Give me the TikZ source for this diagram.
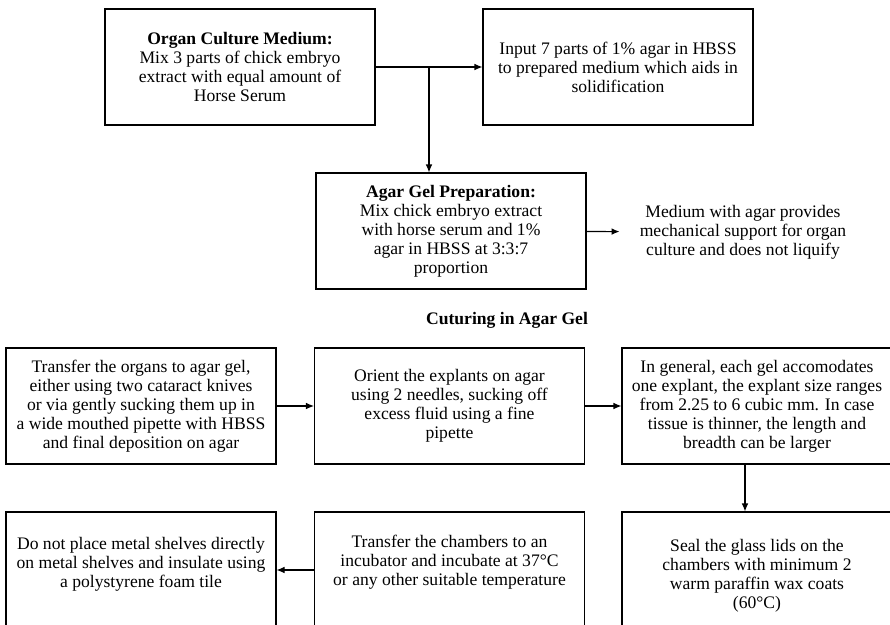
\documentclass[tikz,border=0pt]{standalone}
\usepackage{fontspec}
\setmainfont{Liberation Serif}
\usetikzlibrary{arrows.meta}
\tikzset{
  stepbox/.style={draw, line width=0.8pt, minimum width=202.5pt, minimum height=87pt, align=center, inner sep=0pt},
  flow/.style={-{Latex[length=6pt, width=5pt]}, line width=0.8pt},
}

\begin{document}
\begin{tikzpicture}[x=0.75pt, y=-0.75pt, font=\fontsize{13.2}{14.3}\selectfont]
    \useasboundingbox (0,0) rectangle (890,625);
    \clip (0,0) rectangle (890,625);

    \node[stepbox] (medium) at (240, 67) {\textbf{Organ Culture Medium:}\\Mix 3 parts of chick embryo\\extract with equal amount of\\Horse Serum};
    \node[stepbox] (agarinput) at (618, 67) {Input 7 parts of 1\% agar in HBSS\\to prepared medium which aids in\\solidification};
    \node[stepbox] (gelprep) at (451, 231) {\textbf{Agar Gel Preparation:}\\Mix chick embryo extract\\with horse serum and 1\%\\agar in HBSS at 3:3:7\\proportion};
    \node[align=center, inner xsep=15pt] (support) at (743, 232) {Medium with agar provides\\mechanical support for organ\\culture and does not liquify};

    \coordinate (split) at (429, 67);
    \draw[flow] (medium) -- (agarinput);
    \draw[flow] (split) -- (split |- gelprep.north);
    \draw[flow] (gelprep) -- (support);

    \node (culturing) at (507, 320) {\textbf{Cuturing in Agar Gel}};

    \node[stepbox] (transfer) at (141, 406) {Transfer the organs to agar gel,\\either using two cataract knives\\or via gently sucking them up in\\a wide mouthed pipette with HBSS\\and final deposition on agar};
    \node[stepbox] (orient) at (449.5, 406) {Orient the explants on agar\\using 2 needles, sucking off\\excess fluid using a fine\\pipette};
    \node[stepbox] (explant) at (757, 406) {In general, each gel accomodates\\one explant, the explant size ranges\\from 2.25 to 6 cubic mm. In case\\tissue is thinner, the length and\\breadth can be larger};

    \node[stepbox, minimum height=96pt] (shelves) at (141, 576) {};
    \node[stepbox, minimum height=96pt] (incubate) at (449.5, 576) {};
    \node[stepbox, minimum height=96pt] (seal) at (757, 576) {};
    \node[align=center] (shelvestext) at (141, 564) {Do not place metal shelves directly\\on metal shelves and insulate using\\a polystyrene foam tile};
    \node[align=center] (incubatetext) at (449.5, 562) {Transfer the chambers to an\\incubator and incubate at 37°C\\or any other suitable temperature};
    \node[align=center] (sealtext) at (757, 576) {Seal the glass lids on the\\chambers with minimum 2\\warm paraffin wax coats\\(60°C)};

    \draw[flow] (transfer) -- (orient);
    \draw[flow] (orient) -- (explant);
    \draw[flow] ([xshift=-9pt]explant.south) -- ([xshift=-9pt]seal.north);
    \draw[flow] ([yshift=4.5pt]incubate.west) -- ([yshift=4.5pt]shelves.east);
\end{tikzpicture}
\end{document}
